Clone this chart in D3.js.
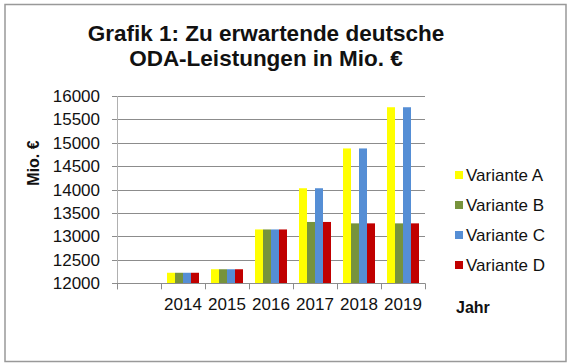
<!DOCTYPE html>
<html><head><meta charset="utf-8">
<script src="https://cdn.jsdelivr.net/npm/d3@7"></script>
<style>body{margin:0;background:#fff}svg{display:block;font-family:"Liberation Sans",Arial,sans-serif}</style>
</head><body>
<script>
const categories = ["", "2014", "2015", "2016", "2017", "2018", "2019"];
const seriesNames = ["Variante A", "Variante B", "Variante C", "Variante D"];
const varianteA = [null, 12225, 12300, 13150, 14030, 14880, 15760];
const varianteB = [null, 12225, 12300, 13150, 13310, 13280, 13280];
const varianteC = [null, 12225, 12300, 13150, 14030, 14880, 15760];
const varianteD = [null, 12225, 12300, 13150, 13310, 13280, 13280];
const yTicks = [12000, 12500, 13000, 13500, 14000, 14500, 15000, 15500, 16000];
const colors = ["#ffff00", "#77933c", "#558ed5", "#c00000"];
const titleLines = ["Grafik 1: Zu erwartende deutsche", "ODA-Leistungen in Mio. €"];

const W = 570, H = 364;
const svg = d3.select("body").append("svg").attr("width", W).attr("height", H);

// frame
svg.append("rect").attr("x", 5).attr("y", 4.5).attr("width", 561).attr("height", 357)
  .attr("fill", "none").attr("stroke", "#999").attr("stroke-width", 1.5);

const x0 = d3.scaleBand().domain(categories).range([117, 425]).padding(0);
const x1 = d3.scaleBand().domain(seriesNames).range([6, x0.bandwidth() - 6]).padding(0);
const y = d3.scaleLinear().domain([12000, 16000]).range([283.3, 96]);

// gridlines
svg.append("g").selectAll("line").data(yTicks).join("line")
  .attr("x1", 112).attr("x2", 425)
  .attr("y1", d => Math.round(y(d)) + 0.5).attr("y2", d => Math.round(y(d)) + 0.5)
  .attr("stroke", "#8c8c8c").attr("stroke-width", 1);

// y axis line
svg.append("line").attr("x1", 117.5).attr("x2", 117.5).attr("y1", y(16000)).attr("y2", y(12000) + 6)
  .attr("stroke", "#b0b0b0");

// y labels
svg.append("g").selectAll("text").data(yTicks).join("text")
  .attr("x", 100).attr("y", d => y(d)).attr("dy", "0.35em")
  .attr("text-anchor", "end").attr("font-size", 17).attr("fill", "#111").text(d => d);

// bars
const series = [varianteA, varianteB, varianteC, varianteD];
series.forEach((vals, si) => {
  svg.append("g").selectAll("rect").data(categories.map((c, i) => ({c, v: vals[i]})).filter(d => d.v != null))
    .join("rect")
    .attr("x", d => x0(d.c) + x1(seriesNames[si]))
    .attr("width", x1.bandwidth())
    .attr("y", d => y(d.v))
    .attr("height", d => y(12000) - y(d.v))
    .attr("fill", colors[si]);
});

// x axis line & ticks
svg.append("line").attr("x1", 117).attr("x2", 425).attr("y1", Math.round(y(12000)) + 0.5).attr("y2", Math.round(y(12000)) + 0.5)
  .attr("stroke", "#8c8c8c");
const bounds = categories.map(c => x0(c)).concat([x0(categories[categories.length - 1]) + x0.bandwidth()]);
svg.append("g").selectAll("line").data(bounds).join("line")
  .attr("x1", d => Math.round(d) + 0.5).attr("x2", d => Math.round(d) + 0.5)
  .attr("y1", y(12000)).attr("y2", y(12000) + 6).attr("stroke", "#8c8c8c");

// x labels
svg.append("g").selectAll("text").data(categories).join("text")
  .attr("x", d => x0(d) + x0.bandwidth() / 2).attr("y", 310)
  .attr("text-anchor", "middle").attr("font-size", 17).attr("fill", "#111").text(d => d);

// title
svg.append("g").selectAll("text").data(titleLines).join("text")
  .attr("x", 266).attr("y", (d, i) => 41 + i * 25)
  .attr("text-anchor", "middle").attr("font-size", 22.5).attr("font-weight", "bold").attr("fill", "#111").text(d => d);

// axis titles
svg.append("text").attr("transform", "translate(39,163) rotate(-90)")
  .attr("text-anchor", "middle").attr("font-size", 16).attr("font-weight", "bold").attr("fill", "#111").text("Mio. €");
svg.append("text").attr("x", 456).attr("y", 313)
  .attr("font-size", 16).attr("font-weight", "bold").attr("fill", "#111").text("Jahr");

// legend
const lg = svg.append("g").selectAll("g").data(seriesNames).join("g")
  .attr("transform", (d, i) => `translate(455,${175 + i * 30})`);
lg.append("rect").attr("x", 0).attr("y", -4).attr("width", 8).attr("height", 8).attr("fill", (d, i) => colors[i]);
lg.append("text").attr("x", 11).attr("y", 0).attr("dy", "0.35em").attr("font-size", 17).attr("fill", "#111").text(d => d);
</script>
</body></html>
